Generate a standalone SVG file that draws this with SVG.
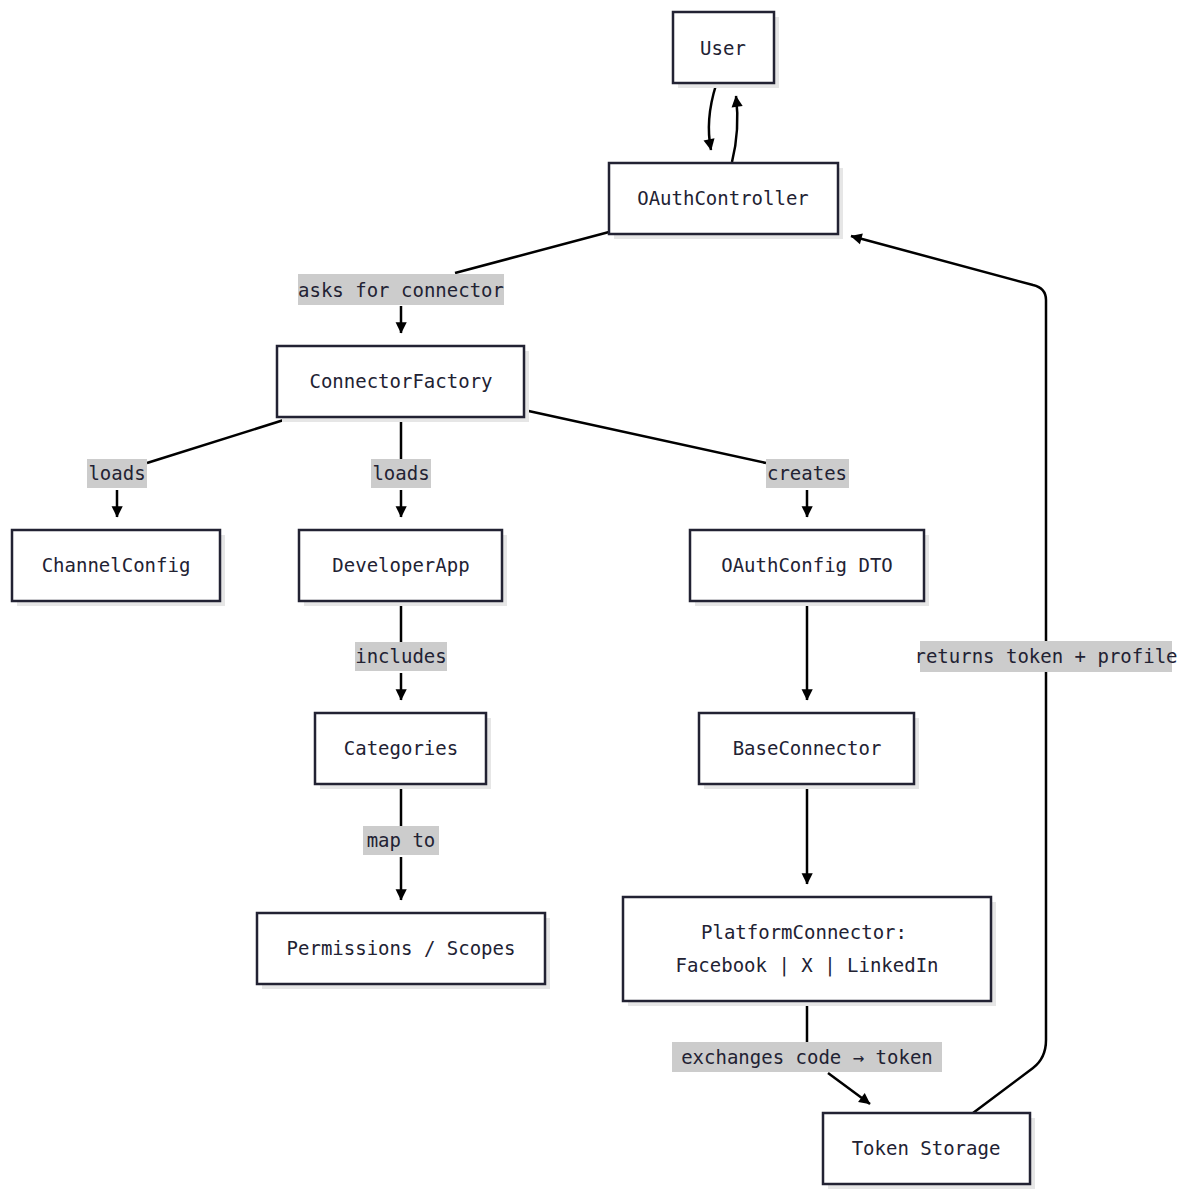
<svg xmlns="http://www.w3.org/2000/svg" width="1188" height="1200" viewBox="0 0 1188 1200">
<style>
text{font-family:"DejaVu Sans Mono","Liberation Mono",monospace;font-size:19px;fill:#222233;text-anchor:middle;dominant-baseline:central}
.box{fill:#fff;stroke:#222233;stroke-width:2.5}
.sh{fill:#e6e6e6}
.e{fill:none;stroke:#000;stroke-width:2.5}
.lb{fill:#cccccc}
</style>
<defs>
<marker id="a" viewBox="0 0 10 10" refX="9" refY="5" markerWidth="7" markerHeight="7" markerUnits="userSpaceOnUse" orient="auto" style="overflow:visible">
<path d="M0,0L10,5L0,10z" fill="#000" transform="scale(1.6) translate(-4,-2)"/>
</marker>
</defs>
<rect width="1188" height="1200" fill="#fff"/>
<g id="edges">
<path class="e" d="M716,85 Q705,120 711,150" marker-end="url(#a)"/>
<path class="e" d="M732,162 Q740,130 736,96" marker-end="url(#a)"/>
<path class="e" d="M609,232 L455,273"/>
<rect class="lb" x="298" y="274" width="206" height="31"/><text x="401" y="290">asks for connector</text>
<path class="e" d="M401,306 L401,333" marker-end="url(#a)"/>
<path class="e" d="M290,418 L147,463"/>
<rect class="lb" x="87" y="459" width="60" height="29"/><text x="117" y="473">loads</text>
<path class="e" d="M117,490 L117,517" marker-end="url(#a)"/>
<path class="e" d="M401,418 L401,459"/>
<rect class="lb" x="371" y="459" width="60" height="29"/><text x="401" y="473">loads</text>
<path class="e" d="M401,490 L401,517" marker-end="url(#a)"/>
<path class="e" d="M524,410 L766,463"/>
<rect class="lb" x="766" y="459" width="83" height="29"/><text x="807" y="473">creates</text>
<path class="e" d="M807,490 L807,517" marker-end="url(#a)"/>
<path class="e" d="M401,601 L401,642"/>
<rect class="lb" x="355" y="642" width="92" height="29"/><text x="401" y="656">includes</text>
<path class="e" d="M401,673 L401,700" marker-end="url(#a)"/>
<path class="e" d="M807,601 L807,700" marker-end="url(#a)"/>
<path class="e" d="M401,784 L401,826"/>
<rect class="lb" x="363" y="826" width="76" height="29"/><text x="401" y="840">map to</text>
<path class="e" d="M401,857 L401,900" marker-end="url(#a)"/>
<path class="e" d="M807,784 L807,884" marker-end="url(#a)"/>
<path class="e" d="M807,1001 L807,1042"/>
<rect class="lb" x="672" y="1042" width="270" height="30"/><text x="807" y="1057">exchanges code → token</text>
<path class="e" d="M828,1073 L870,1104" marker-end="url(#a)"/>
<path class="e" d="M973,1113 L1033,1068 Q1046,1058 1046,1040 L1046,300 Q1046,288 1033,285 L851,236" marker-end="url(#a)"/>
<rect class="lb" x="920" y="641" width="252" height="31"/><text x="1046" y="656">returns token + profile</text>
</g>
<g id="user"><rect class="sh" x="678" y="17" width="101" height="71"/><rect class="box" x="673" y="12" width="101" height="71"/><text x="723" y="48">User</text></g>
<g id="oauthcontroller"><rect class="sh" x="614" y="168" width="229" height="71"/><rect class="box" x="609" y="163" width="229" height="71"/><text x="723" y="198">OAuthController</text></g>
<g id="connectorfactory"><rect class="sh" x="282" y="351" width="247" height="71"/><rect class="box" x="277" y="346" width="247" height="71"/><text x="401" y="381">ConnectorFactory</text></g>
<g id="channelconfig"><rect class="sh" x="17" y="535" width="208" height="71"/><rect class="box" x="12" y="530" width="208" height="71"/><text x="116" y="565">ChannelConfig</text></g>
<g id="developerapp"><rect class="sh" x="304" y="535" width="203" height="71"/><rect class="box" x="299" y="530" width="203" height="71"/><text x="401" y="565">DeveloperApp</text></g>
<g id="oauthconfig"><rect class="sh" x="695" y="535" width="234" height="71"/><rect class="box" x="690" y="530" width="234" height="71"/><text x="807" y="565">OAuthConfig DTO</text></g>
<g id="categories"><rect class="sh" x="320" y="718" width="171" height="71"/><rect class="box" x="315" y="713" width="171" height="71"/><text x="401" y="748">Categories</text></g>
<g id="baseconnector"><rect class="sh" x="704" y="718" width="215" height="71"/><rect class="box" x="699" y="713" width="215" height="71"/><text x="807" y="748">BaseConnector</text></g>
<g id="permissions"><rect class="sh" x="262" y="918" width="288" height="71"/><rect class="box" x="257" y="913" width="288" height="71"/><text x="401" y="948">Permissions / Scopes</text></g>
<g id="platformconnector"><rect class="sh" x="628" y="902" width="368" height="104"/><rect class="box" x="623" y="897" width="368" height="104"/><text x="804" y="932">PlatformConnector:</text><text x="807" y="965">Facebook | X | LinkedIn</text></g>
<g id="tokenstorage"><rect class="sh" x="828" y="1118" width="207" height="71"/><rect class="box" x="823" y="1113" width="207" height="71"/><text x="926" y="1148">Token Storage</text></g>
</svg>
